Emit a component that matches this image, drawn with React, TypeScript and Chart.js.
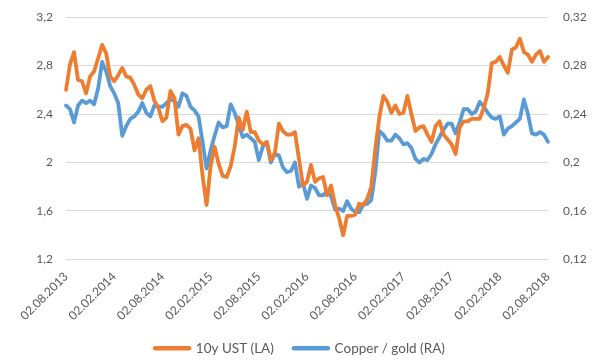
import React, { useEffect, useRef } from "react";
import { Chart, registerables } from "chart.js";

Chart.register(...registerables);

// 10y UST yield (left axis), semi-monthly readings 02.08.2013 .. 02.08.2018
const UST_10Y = [
  2.60, 2.81, 2.91, 2.68, 2.67, 2.57, 2.71, 2.75, 2.86, 2.97, 2.90, 2.71,
  2.67, 2.72, 2.78, 2.71, 2.70, 2.64, 2.56, 2.53, 2.60, 2.63, 2.51, 2.45,
  2.34, 2.37, 2.59, 2.53, 2.23, 2.30, 2.31, 2.28, 2.10, 2.20, 1.89, 1.65,
  1.97, 2.13, 1.99, 1.89, 1.88, 1.97, 2.13, 2.37, 2.27, 2.42, 2.25, 2.25,
  2.18, 2.15, 2.17, 2.02, 2.08, 2.32, 2.26, 2.23, 2.23, 2.25, 2.03, 1.81,
  1.84, 1.98, 1.84, 1.87, 1.88, 1.73, 1.81, 1.65, 1.54, 1.40, 1.56, 1.56,
  1.57, 1.66, 1.65, 1.70, 1.80, 2.11, 2.37, 2.55, 2.50, 2.41, 2.47, 2.40,
  2.41, 2.55, 2.40, 2.26, 2.29, 2.30, 2.23, 2.17, 2.30, 2.34, 2.23, 2.19,
  2.15, 2.07, 2.29, 2.34, 2.34, 2.36, 2.36, 2.36, 2.45, 2.57, 2.82, 2.83,
  2.87, 2.80, 2.74, 2.93, 2.95, 3.02, 2.91, 2.89, 2.83, 2.89, 2.92, 2.83,
  2.87,
];

// Copper / gold ratio (right axis)
const COPPER_GOLD = [
  0.247, 0.244, 0.233, 0.247, 0.251, 0.249, 0.251, 0.248, 0.261, 0.283, 0.275, 0.263,
  0.257, 0.249, 0.222, 0.230, 0.236, 0.238, 0.242, 0.249, 0.241, 0.238, 0.247, 0.246,
  0.246, 0.249, 0.252, 0.251, 0.246, 0.257, 0.255, 0.246, 0.243, 0.238, 0.217, 0.195,
  0.210, 0.222, 0.233, 0.229, 0.230, 0.248, 0.241, 0.231, 0.221, 0.223, 0.220, 0.217,
  0.202, 0.213, 0.217, 0.200, 0.207, 0.206, 0.196, 0.192, 0.193, 0.200, 0.180, 0.183,
  0.170, 0.181, 0.179, 0.173, 0.173, 0.176, 0.172, 0.161, 0.162, 0.160, 0.168, 0.162,
  0.159, 0.159, 0.165, 0.166, 0.169, 0.192, 0.226, 0.223, 0.218, 0.218, 0.223, 0.220,
  0.215, 0.216, 0.212, 0.203, 0.200, 0.203, 0.202, 0.207, 0.215, 0.221, 0.227, 0.232,
  0.232, 0.224, 0.233, 0.244, 0.244, 0.240, 0.242, 0.250, 0.246, 0.241, 0.237, 0.236,
  0.238, 0.223, 0.228, 0.230, 0.233, 0.236, 0.252, 0.240, 0.224, 0.223, 0.225, 0.223,
  0.217,
];

const SERIES_NAMES = ["10y UST (LA)", "Copper / gold (RA)"];
const SERIES_COLORS = ["#ED7D31", "#5B9BD5"];
const START_YEAR = 2013;
const START_MONTH = 8;
const DAYS_IN_MONTH = ["02", "17"];
const TICK_EVERY = 12; // a label every 6 months

function buildDates(count: number): string[] {
  const out: string[] = [];
  let y = START_YEAR;
  let m = START_MONTH;
  while (out.length < count) {
    for (const d of DAYS_IN_MONTH) {
      if (out.length < count) out.push(`${d}.${String(m).padStart(2, "0")}.${y}`);
    }
    m++;
    if (m > 12) {
      m = 1;
      y++;
    }
  }
  return out;
}

const DATES = buildDates(UST_10Y.length);

const fmt = (v: number, digits: number) =>
  String(Math.round(v * Math.pow(10, digits)) / Math.pow(10, digits)).replace(".", ",");

export default function App() {
  const ref = useRef<HTMLCanvasElement | null>(null);

  useEffect(() => {
    if (!ref.current) return;
    const font = { family: "Lato, 'Open Sans', sans-serif", size: 12 };
    const legendFont = { family: "Lato, 'Open Sans', sans-serif", size: 13.5 };
    const textColor = "#595959";
    const defaultLabels = Chart.defaults.plugins.legend.labels.generateLabels;
    const chart = new Chart(ref.current, {
      type: "line",
      data: {
        labels: DATES,
        datasets: [
          {
            label: SERIES_NAMES[0],
            data: UST_10Y,
            borderColor: SERIES_COLORS[0],
            backgroundColor: SERIES_COLORS[0],
            borderWidth: 3.8,
            pointRadius: 0,
            tension: 0,
            borderJoinStyle: "round",
            borderCapStyle: "round",
            yAxisID: "y",
          },
          {
            label: SERIES_NAMES[1],
            data: COPPER_GOLD,
            borderColor: SERIES_COLORS[1],
            backgroundColor: SERIES_COLORS[1],
            borderWidth: 3.8,
            pointRadius: 0,
            tension: 0,
            borderJoinStyle: "round",
            borderCapStyle: "round",
            yAxisID: "y1",
          },
        ],
      },
      options: {
        responsive: false,
        animation: false,
        layout: { padding: { top: 17, left: 0, right: 0, bottom: -5 } },
        plugins: {
          tooltip: { enabled: false },
          legend: {
            position: "bottom",
            labels: {
              font: legendFont,
              color: textColor,
              usePointStyle: true,
              pointStyleWidth: 34,
              boxHeight: 5,
              padding: 20,
              generateLabels: (c: any) =>
                defaultLabels(c).map((l: any) => ({
                  ...l,
                  pointStyle: "line",
                  lineWidth: 4.5,
                  lineCap: "round",
                })),
            },
          },
        },
        scales: {
          x: {
            type: "category",
            grid: { display: false },
            border: { display: false },
            ticks: {
              font,
              color: textColor,
              autoSkip: false,
              maxRotation: 45,
              minRotation: 45,
              padding: 2,
              callback: (_v: any, i: number) => (i % TICK_EVERY === 0 ? DATES[i] : null),
            },
            afterFit: (s: any) => {
              s.height = 62;
            },
          },
          y: {
            position: "left",
            min: 1.2,
            max: 3.2,
            grid: {
              color: "#d9d9d9",
              lineWidth: 1,
              drawTicks: true,
              tickLength: 10,
              tickColor: "rgba(0,0,0,0)",
            },
            border: { display: false },
            ticks: {
              stepSize: 0.4,
              font,
              color: textColor,
              padding: 3,
              callback: (v: any) => fmt(Number(v), 1),
            },
            afterFit: (s: any) => {
              s.width = 66;
            },
          },
          y1: {
            position: "right",
            min: 0.12,
            max: 0.32,
            grid: {
              display: true,
              drawOnChartArea: false,
              drawTicks: true,
              tickLength: 11,
              tickColor: "rgba(0,0,0,0)",
            },
            border: { display: false },
            ticks: {
              stepSize: 0.04,
              font,
              color: textColor,
              padding: 4,
              callback: (v: any) => fmt(Number(v), 2),
            },
            afterFit: (s: any) => {
              s.width = 52;
            },
          },
        },
      },
    } as any);
    return () => chart.destroy();
  }, []);

  return (
    <div style={{ position: "fixed", left: 0, top: 0, width: 600, height: 360, background: "#fff" }}>
      <canvas ref={ref} width={600} height={360} style={{ width: 600, height: 360, display: "block" }} />
    </div>
  );
}
